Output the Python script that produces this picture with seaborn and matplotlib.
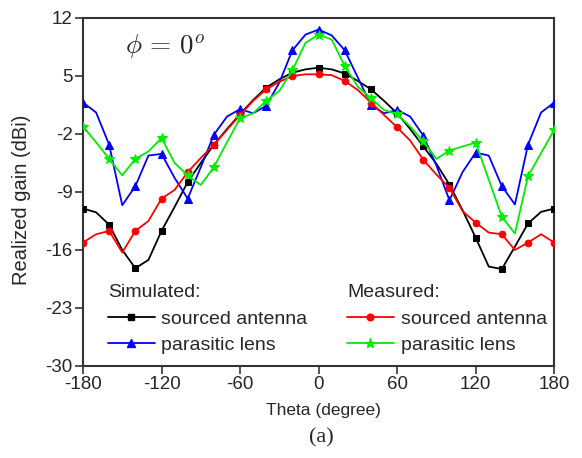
import numpy as np
import pandas as pd
import matplotlib
matplotlib.use("Agg")
import matplotlib.pyplot as plt
import seaborn as sns
from matplotlib.lines import Line2D

theta = list(range(-180, 181, 10))

sim_sourced = [-11.0, -11.45, -12.95, -16.0, -18.2, -17.2, -13.7, -10.8, -7.8, -5.5,
               -3.3, -1.4, 0.4, 2.1, 3.6, 4.6, 5.4, 5.8, 6.0, 5.8,
               5.3, 4.4, 3.4, 2.0, 0.5, -1.4, -3.5, -5.6, -8.1, -11.2,
               -14.5, -18.0, -18.3, -15.6, -12.8, -11.4, -11.0]
sim_lens = [1.8, 0.6, -3.3, -10.6, -8.3, -4.6, -4.4, -7.3, -9.8, -6.0,
            -2.1, 0.1, 1.0, 0.5, 1.4, 4.2, 8.1, 10.0, 10.6, 9.9,
            8.1, 4.8, 1.5, 0.5, 0.9, 0.1, -2.2, -5.8, -10.0, -6.6,
            -4.25, -4.6, -8.3, -10.5, -3.3, 0.6, 1.8]
meas_sourced = [-15.1, -14.1, -13.7, -16.3, -13.7, -12.5, -9.8, -8.75, -6.6, -4.9,
                -3.3, -1.5, 0.3, 2.0, 3.4, 4.3, 5.0, 5.2, 5.2, 5.1,
                4.4, 3.3, 1.8, 0.3, -1.2, -2.8, -5.1, -6.9, -8.5, -11.3,
                -12.7, -13.9, -14.1, -16.0, -15.1, -14.1, -15.1]
meas_lens = [-1.1, -3.0, -5.0, -7.0, -5.0, -4.1, -2.5, -5.5, -7.0, -8.15,
             -6.0, -3.0, -0.1, 0.5, 2.0, 3.2, 5.7, 9.0, 10.0, 9.4,
             6.2, 3.7, 2.3, 0.9, 0.4, -1.1, -2.9, -5.0, -4.0, -3.5,
             -3.05, -7.5, -12.0, -14.0, -7.1, -4.3, -1.5]

x_ticks = [-180, -120, -60, 0, 60, 120, 180]
y_ticks = [-30, -23, -16, -9, -2, 5, 12]

sns.set_style("ticks")
plt.rcParams["font.family"] = ["Liberation Sans", "DejaVu Sans"]
plt.rcParams["mathtext.fontset"] = "cm"

fig = plt.figure(figsize=(5.82, 4.58), dpi=100)
ax = fig.add_axes([0.1426, 0.2009, 0.8096, 0.7598])

green = "#00ee00"
series = [
    (sim_sourced, "black", "s", 4.8),
    (sim_lens, "blue", "^", 6.0),
    (meas_sourced, "red", "o", 4.8),
    (meas_lens, green, "*", 7.0),
]
for vals, col, mk, ms in series:
    df = pd.DataFrame({"theta": theta, "gain": vals})
    sns.lineplot(data=df, x="theta", y="gain", ax=ax, color=col, marker=mk,
                 markersize=ms, markevery=2, linewidth=1.3,
                 markeredgecolor=col, markerfacecolor=col, zorder=3)

ax.set_xlim(-180, 180)
ax.set_ylim(-30, 12)
ax.set_xticks(x_ticks)
ax.set_yticks(y_ticks)
ax.set_xticklabels([str(t) for t in x_ticks], fontsize=13.5)
ax.set_yticklabels([str(t) for t in y_ticks], fontsize=13.5)
ax.tick_params(direction="out", length=6, width=1.2, color="#333333", pad=1.5)
for s in ax.spines.values():
    s.set_visible(True)
    s.set_linewidth(1.5)
    s.set_color("#333333")
ax.set_xlabel("Theta (degree)", fontsize=12.5, va="top")
ax.xaxis.set_label_coords(0.51, -0.105)
ax.set_ylabel("Realized gain (dBi)", fontsize=14.5)
ax.yaxis.set_label_coords(-0.11, 0.477)

ax.text(0.089, 0.917, r"$\phi\,=\,0^o$", transform=ax.transAxes,
        fontsize=19.5, ha="left", va="center")

def make_handle(col, mk, ms):
    return Line2D([0], [0], color=col, marker=mk, markersize=ms, linewidth=1.3,
                  markeredgecolor=col, markerfacecolor=col)

leg_kw = dict(loc="upper left", frameon=False, fontsize=14, title_fontsize=14,
              handlelength=2.4, handletextpad=0.35, labelspacing=0.43,
              borderaxespad=0.0, borderpad=0.0)
leg1 = ax.legend([make_handle("black", "s", 4.8), make_handle("blue", "^", 5.5)],
                 ["sourced antenna", "parasitic lens"], title="Simulated:",
                 bbox_to_anchor=(0.053, 0.236), **leg_kw)
leg1._legend_box.align = "left"
leg1._legend_box.sep = 7
ax.add_artist(leg1)
leg2 = ax.legend([make_handle("red", "o", 4.8), make_handle(green, "*", 6.5)],
                 ["sourced antenna", "parasitic lens"], title="Measured:",
                 bbox_to_anchor=(0.5605, 0.236), **leg_kw)
leg2._legend_box.align = "left"
leg2._legend_box.sep = 7

fig.text(0.553, 0.045, "(a)", fontsize=16, ha="center", va="center",
         family=["Liberation Serif", "DejaVu Serif"])

fig.savefig("out.png", dpi=100)
